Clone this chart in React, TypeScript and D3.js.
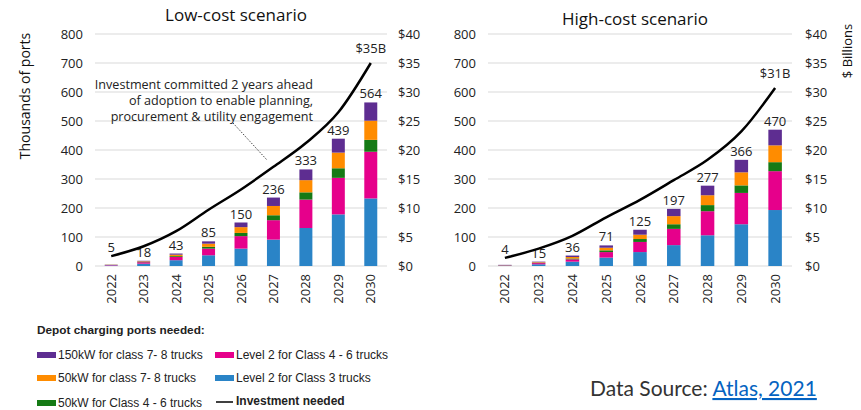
import React from "react";
import * as d3 from "d3";

const years = ["2022", "2023", "2024", "2025", "2026", "2027", "2028", "2029", "2030"];

// Low-cost scenario (thousands of ports)
const lowL2Class3 = [2, 8, 20, 37, 60, 91, 131, 178, 233];
const lowL2Class46 = [1.5, 5, 11, 23, 43, 67, 98, 126, 161];
const low50Class46 = [0.4, 1, 3, 6, 11, 17, 25, 33, 41];
const low50Class78 = [0.6, 2, 5, 11, 20, 32, 42, 54, 66];
const low150Class78 = [0.5, 2, 4, 8, 16, 29, 37, 48, 63];
const lowTotals = [5, 18, 43, 85, 150, 236, 333, 439, 564];
const lowInvestment = [1.7, 3.4, 6.0, 9.7, 13.2, 17.1, 21.2, 26.5, 35];

// High-cost scenario
const highL2Class3 = [1.6, 6, 15, 29, 48, 72, 106, 144, 193];
const highL2Class46 = [1.1, 4, 8, 19, 35, 56, 83, 108, 134];
const high50Class46 = [0.3, 1, 3, 6, 10, 16, 21, 26, 31];
const high50Class78 = [0.5, 2, 5, 9, 15, 28, 34, 45, 58];
const high150Class78 = [0.5, 2, 5, 8, 17, 25, 33, 43, 54];
const highTotals = [4, 15, 36, 71, 125, 197, 277, 366, 470];
const highInvestment = [1.4, 3.0, 5.2, 8.4, 11.4, 14.8, 18.3, 23.2, 30.7];

const leftTicks = [0, 100, 200, 300, 400, 500, 600, 700, 800];
const rightTicks = [0, 5, 10, 15, 20, 25, 30, 35, 40];

const seriesKeys = ["l2c3", "l2c46", "k50c46", "k50c78", "k150c78"];
const seriesColors: Record<string, string> = {
  l2c3: "#2A84C7",
  l2c46: "#E6008B",
  k50c46: "#157A15",
  k50c78: "#FF8C00",
  k150c78: "#5E2D91",
};

const FONT = "'Open Sans', 'Noto Sans', sans-serif";

type ChartProps = {
  title: string;
  titleY: number;
  x0: number;
  x1: number;
  leftLabelX: number;
  rightLabelX: number;
  stacks: number[][];
  totals: number[];
  invest: number[];
  investLabel: string;
};

function Chart(p: ChartProps) {
  const top = 34;
  const bottom = 266;
  const x = d3.scaleBand<string>().domain(years).range([p.x0, p.x1]).paddingInner(0.6).paddingOuter(0.3);
  const y = d3.scaleLinear().domain([0, 800]).range([bottom, top]);
  const y2 = d3.scaleLinear().domain([0, 40]).range([bottom, top]);
  const rows = years.map((yr, i) => {
    const r: any = { year: yr };
    seriesKeys.forEach((k, j) => (r[k] = p.stacks[j][i]));
    return r;
  });
  const stacked = d3.stack<any>().keys(seriesKeys)(rows);
  const cx = (i: number) => (x(years[i]) as number) + x.bandwidth() / 2;
  const line = d3
    .line<number>()
    .x((_, i) => cx(i))
    .y((d) => y2(d))
    .curve(d3.curveMonotoneX);
  const lastX = cx(years.length - 1);
  const lastY = y2(p.invest[p.invest.length - 1]);
  const labelY = (t: number, i: number) => {
    let b = y(t) - 4;
    const ly = y2(p.invest[i]);
    if (b > ly + 1 && b - 8 < ly) b = ly - 4;
    return b;
  };
  return (
    <g>
      <text x={(p.x0 + p.x1) / 2 - 5} y={p.titleY} textAnchor="middle" fontSize={17} fill="#111">
        {p.title}
      </text>
      {leftTicks.map((t) => (
        <g key={t}>
          <line x1={p.x0} x2={p.x1} y1={y(t)} y2={y(t)} stroke="#d9d9d9" strokeWidth={1} />
          <text x={p.leftLabelX} y={y(t)} dy="0.35em" textAnchor="end" fontSize={13} fill="#222">
            {t}
          </text>
        </g>
      ))}
      {rightTicks.map((t) => (
        <text key={t} x={p.rightLabelX} y={y2(t)} dy="0.35em" textAnchor="start" fontSize={13} fill="#222">
          {"$" + t}
        </text>
      ))}
      {stacked.map((s) => (
        <g key={s.key} fill={seriesColors[s.key]}>
          {s.map((d, i) => (
            <rect
              key={i}
              x={x(years[i]) as number}
              width={x.bandwidth()}
              y={y(d[1])}
              height={Math.max(0, y(d[0]) - y(d[1]))}
            />
          ))}
        </g>
      ))}
      {p.totals.map((t, i) => (
        <text key={i} x={cx(i)} y={labelY(t, i)} textAnchor="middle" fontSize={13} fill="#222">
          {t}
        </text>
      ))}
      <path d={line(p.invest) as string} fill="none" stroke="#000" strokeWidth={2.5} />
      <text x={lastX} y={lastY - 10} textAnchor="middle" fontSize={13} fill="#222">
        {p.investLabel}
      </text>
      {years.map((yr, i) => (
        <text
          key={yr}
          transform={`translate(${cx(i)},274) rotate(-90)`}
          textAnchor="end"
          dy="0.35em"
          fontSize={13}
          fill="#222"
        >
          {yr}
        </text>
      ))}
    </g>
  );
}

const legendLeft = [
  { key: "k150c78", label: "150kW for class 7- 8 trucks" },
  { key: "k50c78", label: "50kW for class 7- 8 trucks" },
  { key: "k50c46", label: "50kW for Class 4 - 6 trucks" },
];
const legendRight = [
  { key: "l2c46", label: "Level 2 for Class 4 - 6 trucks" },
  { key: "l2c3", label: "Level 2 for Class 3 trucks" },
  { key: "line", label: "Investment needed" },
];

export default function App() {
  const rowY = [355, 378, 403];
  return (
    <svg width={861} height={410} style={{ position: "absolute", left: 0, top: 0, fontFamily: FONT }}>
      <rect width={861} height={410} fill="#fff" />
      <Chart
        title="Low-cost scenario"
        titleY={21}
        x0={95}
        x1={387}
        leftLabelX={83}
        rightLabelX={398}
        stacks={[lowL2Class3, lowL2Class46, low50Class46, low50Class78, low150Class78]}
        totals={lowTotals}
        invest={lowInvestment}
        investLabel="$35B"
      />
      <Chart
        title="High-cost scenario"
        titleY={25}
        x0={488}
        x1={792}
        leftLabelX={476}
        rightLabelX={805}
        stacks={[highL2Class3, highL2Class46, high50Class46, high50Class78, high150Class78]}
        totals={highTotals}
        invest={highInvestment}
        investLabel="$31B"
      />
      <text transform="translate(30,96) rotate(-90)" textAnchor="middle" fontSize={14} fill="#111">
        Thousands of ports
      </text>
      <text transform="translate(852,51) rotate(-90)" textAnchor="middle" fontSize={13} fill="#111">
        $ Billions
      </text>
      <g fontSize={12.6} fill="#222" textAnchor="end">
        <text x={313} y={89}>Investment committed 2 years ahead</text>
        <text x={313} y={105}>of adoption to enable planning,</text>
        <text x={313} y={121}>procurement &amp; utility engagement</text>
      </g>
      <line x1={233} y1={123} x2={267} y2={160} stroke="#444" strokeWidth={1} strokeDasharray="1.5,1.5" />
      <g fontFamily="'Liberation Sans', Arial, sans-serif" fontSize={12} fill="#222">
        <text x={37} y={334} fontWeight="bold" fontSize={11.8}>Depot charging ports needed:</text>
        {legendLeft.map((l, i) => (
          <g key={l.key}>
            <rect x={37} y={rowY[i] - 3} width={19} height={6} fill={seriesColors[l.key]} />
            <text x={58} y={rowY[i]} dy="0.35em">{l.label}</text>
          </g>
        ))}
        {legendRight.map((l, i) =>
          l.key === "line" ? (
            <g key={l.key}>
              <line x1={216} x2={233} y1={rowY[i] - 1} y2={rowY[i] - 1} stroke="#000" strokeWidth={1.5} />
              <text x={236} y={rowY[i] - 2} dy="0.35em" fontWeight="bold">{l.label}</text>
            </g>
          ) : (
            <g key={l.key}>
              <rect x={215} y={rowY[i] - 3} width={19} height={6} fill={seriesColors[l.key]} />
              <text x={236} y={rowY[i]} dy="0.35em">{l.label}</text>
            </g>
          )
        )}
      </g>
      <text x={590} y={396} fontFamily="Lato, 'Open Sans', sans-serif" fontSize={21} fill="#333">
        Data Source:{" "}
        <tspan fill="#0563C1" textDecoration="underline">Atlas, 2021</tspan>
      </text>
    </svg>
  );
}
